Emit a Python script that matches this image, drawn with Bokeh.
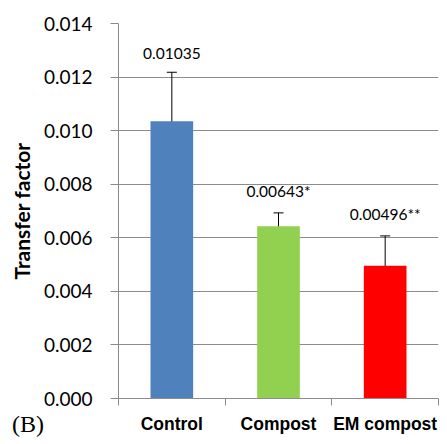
from bokeh.plotting import figure
from bokeh.models import (ColumnDataSource, Range1d, FixedTicker, NumeralTickFormatter,
                          LinearAxis, Whisker, TeeHead, Grid, Div)
from bokeh.layouts import column
from bokeh.core.properties import value
from bokeh.embed import file_html
from bokeh.resources import INLINE

categories = ["Control", "Compost", "EM compost"]
means = [0.01035, 0.00643, 0.00496]
errors = [0.00183, 0.00050, 0.00111]
value_labels = ["0.01035", "0.00643*", "0.00496**"]
colors = ["#4F81BD", "#92D050", "#FF0000"]
y_ticks = [0.000, 0.002, 0.004, 0.006, 0.008, 0.010, 0.012, 0.014]
panel_tag = "(B)"

xs = [i + 0.5 for i in range(len(categories))]
src = ColumnDataSource(dict(
    x=xs, top=means, color=colors,
    upper=[m + e for m, e in zip(means, errors)],
    lower=[m - e for m, e in zip(means, errors)],
    label=value_labels,
))

p = figure(width=439, height=436, output_backend="svg", toolbar_location=None,
           x_range=Range1d(0, len(categories)), y_range=Range1d(0, 0.014),
           x_axis_type=None, y_axis_type=None,
           min_border_left=118, min_border_right=1, min_border_top=23, min_border_bottom=31)
p.outline_line_color = None
p.background_fill_color = "white"

grid_color = "#8C8C8C"
font = "Lato"

# y axis
yaxis = LinearAxis(ticker=FixedTicker(ticks=y_ticks), formatter=NumeralTickFormatter(format="0.000"))
yaxis.axis_label = "Transfer factor"
yaxis.axis_label_text_font = font
yaxis.axis_label_text_font_style = "bold"
yaxis.axis_label_text_font_size = "21px"
yaxis.axis_label_text_color = "black"
yaxis.axis_label_standoff = 7
yaxis.major_label_text_font = font
yaxis.major_label_text_font_size = "19px"
yaxis.major_label_text_color = "black"
yaxis.major_label_standoff = 18
yaxis.axis_line_color = grid_color
yaxis.major_tick_line_color = grid_color
yaxis.major_tick_out = 8
yaxis.major_tick_in = 0
yaxis.minor_tick_line_color = None
p.add_layout(yaxis, "left")

# x axis: labels at centers, ticks between categories
xaxis = LinearAxis(ticker=FixedTicker(ticks=xs, minor_ticks=list(range(len(categories) + 1))))
xaxis.major_label_overrides = {x: c for x, c in zip(xs, categories)}
xaxis.major_tick_line_color = None
xaxis.major_tick_out = 0
xaxis.major_tick_in = 0
xaxis.minor_tick_line_color = grid_color
xaxis.minor_tick_out = 7
xaxis.minor_tick_in = 0
xaxis.axis_line_color = grid_color
xaxis.major_label_text_font = "Liberation Sans"
xaxis.major_label_text_font_style = "bold"
xaxis.major_label_text_font_size = "17.5px"
xaxis.major_label_text_color = "black"
xaxis.major_label_standoff = 8
p.add_layout(xaxis, "below")

p.add_layout(Grid(dimension=1, ticker=FixedTicker(ticks=y_ticks),
                  grid_line_color=grid_color, grid_line_width=1))

p.vbar(x="x", top="top", width=0.40, bottom=0, color="color", line_color=None, source=src)

w = Whisker(base="x", upper="upper", lower="lower", source=src,
            line_color="black", line_width=1,
            upper_head=TeeHead(size=10, line_color="black", line_width=1),
            lower_head=TeeHead(size=10, line_color="black", line_width=1))
p.add_layout(w)

p.text(x="x", y="upper", text="label", source=src, text_align="center",
       text_baseline="bottom", y_offset=-13, text_font=value(font),
       text_font_size="15.5px", text_color="black")

tag = Div(text=panel_tag, margin=(-24, 0, 0, 12),
          styles={"font-family": "Liberation Serif", "font-size": "24px",
                  "color": "black", "line-height": "1"})

layout = column(p, tag, spacing=0)
open("out.html", "w").write(file_html(layout, INLINE))
